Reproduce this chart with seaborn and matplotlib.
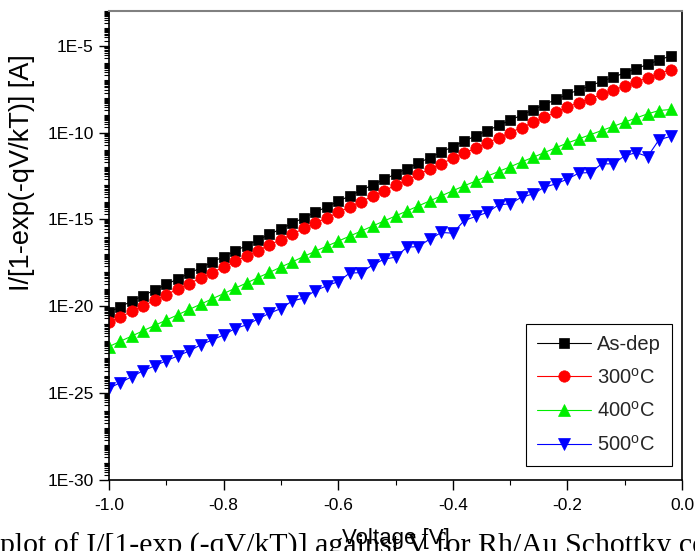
import numpy as np
import pandas as pd
import seaborn as sns
import matplotlib
matplotlib.use("Agg")
import matplotlib.pyplot as plt
from matplotlib.ticker import FixedLocator, FuncFormatter, LogLocator, MultipleLocator, NullFormatter

# -----------------------------------------
# data (log10 of I/[1-exp(-qV/kT)])
# -----------------------------------------
voltage = [-1.00, -0.98, -0.96, -0.94, -0.92, -0.90, -0.88, -0.86, -0.84, -0.82,
           -0.80, -0.78, -0.76, -0.74, -0.72, -0.70, -0.68, -0.66, -0.64, -0.62,
           -0.60, -0.58, -0.56, -0.54, -0.52, -0.50, -0.48, -0.46, -0.44, -0.42,
           -0.40, -0.38, -0.36, -0.34, -0.32, -0.30, -0.28, -0.26, -0.24, -0.22,
           -0.20, -0.18, -0.16, -0.14, -0.12, -0.10, -0.08, -0.06, -0.04, -0.02]

log_asdep = [-20.34, -20.02, -19.70, -19.38, -19.06, -18.74, -18.42, -18.10, -17.78, -17.46,
             -17.14, -16.82, -16.50, -16.18, -15.86, -15.54, -15.22, -14.90, -14.59, -14.27,
             -13.96, -13.64, -13.33, -13.01, -12.70, -12.38, -12.07, -11.75, -11.44, -11.12,
             -10.81, -10.49, -10.19, -9.89, -9.59, -9.29, -8.99, -8.69, -8.39, -8.09,
             -7.79, -7.54, -7.30, -7.05, -6.81, -6.56, -6.32, -6.07, -5.83, -5.58]

log_300 = [-20.92, -20.61, -20.29, -19.97, -19.65, -19.33, -19.01, -18.69, -18.38, -18.06,
           -17.74, -17.42, -17.11, -16.79, -16.47, -16.16, -15.84, -15.52, -15.22, -14.90,
           -14.60, -14.28, -13.97, -13.66, -13.35, -13.04, -12.73, -12.41, -12.10, -11.79,
           -11.48, -11.19, -10.89, -10.59, -10.30, -10.00, -9.71, -9.41, -9.12, -8.83,
           -8.53, -8.28, -8.05, -7.80, -7.56, -7.32, -7.09, -6.85, -6.61, -6.38]

log_400 = [-22.32, -22.01, -21.71, -21.40, -21.10, -20.79, -20.49, -20.18, -19.88, -19.57,
           -19.27, -18.96, -18.66, -18.35, -18.05, -17.74, -17.44, -17.13, -16.83, -16.54,
           -16.25, -15.96, -15.67, -15.38, -15.09, -14.80, -14.51, -14.22, -13.93, -13.64,
           -13.35, -13.06, -12.79, -12.51, -12.24, -11.97, -11.69, -11.42, -11.15, -10.87,
           -10.60, -10.36, -10.12, -9.88, -9.64, -9.40, -9.16, -8.92, -8.73, -8.67]

log_500 = [-24.72, -24.39, -24.05, -23.70, -23.43, -23.13, -22.86, -22.57, -22.22, -21.94,
           -21.65, -21.28, -21.07, -20.73, -20.40, -20.13, -19.69, -19.53, -19.10, -18.82,
           -18.58, -18.09, -18.06, -17.62, -17.29, -17.17, -16.60, -16.56, -16.13, -15.75,
           -15.79, -15.06, -14.83, -14.60, -14.16, -14.10, -13.72, -13.53, -13.14, -12.95,
           -12.68, -12.33, -12.30, -11.80, -11.80, -11.34, -11.15, -11.38, -10.41, -10.22]

labels = ["As-dep", "300$^{\\rm o}$C", "400$^{\\rm o}$C", "500$^{\\rm o}$C"]
colors = ["#000000", "#ff0000", "#00ee00", "#0000ff"]
markers = ["s", "o", "^", "v"]
msizes = [7.2, 8.2, 8.8, 8.8]

series = [log_asdep, log_300, log_400, log_500]

# -----------------------------------------
# plot
# -----------------------------------------
sns.set_theme(style="ticks")
plt.rcParams["font.family"] = ["Liberation Sans", "DejaVu Sans"]
plt.rcParams["mathtext.fontset"] = "custom"
plt.rcParams["mathtext.rm"] = "Liberation Sans"

fig = plt.figure(figsize=(6.95, 5.51), dpi=100)
ax = fig.add_axes([109 / 695, 1 - 480 / 551, 573 / 695, 469 / 551])

for vals, lab, c, m, ms in zip(series, labels, colors, markers, msizes):
    df = pd.DataFrame({"V": voltage, "I": 10.0 ** np.array(vals)})
    sns.lineplot(data=df, x="V", y="I", ax=ax, color=c, marker=m, markersize=ms,
                 markeredgecolor=c, markeredgewidth=0.5, linewidth=0.8, label=lab)

ax.set_yscale("log")
ax.set_xlim(-1.0, 0.0)
ax.set_ylim(1e-30, 1e-3)

ax.yaxis.set_major_locator(FixedLocator([1e-30, 1e-25, 1e-20, 1e-15, 1e-10, 1e-5]))
ax.yaxis.set_major_formatter(FuncFormatter(lambda v, p: "1E%d" % round(np.log10(v))))
ax.yaxis.set_minor_locator(LogLocator(base=10, subs=np.arange(1, 10), numticks=200))
ax.yaxis.set_minor_formatter(NullFormatter())
ax.xaxis.set_major_locator(MultipleLocator(0.2))
ax.xaxis.set_minor_locator(MultipleLocator(0.1))
ax.xaxis.set_major_formatter(FuncFormatter(lambda v, p: "%.1f" % v))

ax.tick_params(which="major", direction="out", length=7, width=1.0, color="black",
               labelsize=12.5, labelcolor="black", pad=4)
ax.tick_params(axis="x", which="major", pad=6)
ax.tick_params(which="minor", direction="out", length=3.5, width=0.8, color="black")
ax.tick_params(top=False, right=False, which="both")

for s in ["left", "bottom", "right"]:
    ax.spines[s].set_color("black")
    ax.spines[s].set_linewidth(1.2)
ax.spines["top"].set_color("#808080")
ax.spines["top"].set_linewidth(1.5)

ax.set_xlabel("Voltage [V]", fontsize=16, color="black")
ax.set_ylabel("I/[1-exp(-qV/kT)] [A]", fontsize=19.5, color="black")
ax.xaxis.set_label_coords(0.5, -0.102)
ax.yaxis.set_label_coords(-0.152, 0.655)
ax.yaxis.label.set_verticalalignment("center")

leg = ax.legend(loc="lower right", bbox_to_anchor=(0.9825, 0.030), borderaxespad=0,
                fontsize=14.5, frameon=True, fancybox=False, framealpha=1,
                edgecolor="black", handlelength=2.7, handletextpad=0.3,
                labelspacing=0.68, borderpad=0.55)
leg.get_frame().set_linewidth(0.8)

# caption of the page the figure came from, cut by the image edges
fig.text(0.0, -0.004, "plot of I/[1-exp (-qV/kT)] against V for Rh/Au Schottky contacts",
         fontsize=21.5, family=["Liberation Serif", "DejaVu Serif"], color="black",
         ha="left", va="baseline")

fig.savefig("out.png", dpi=100)
